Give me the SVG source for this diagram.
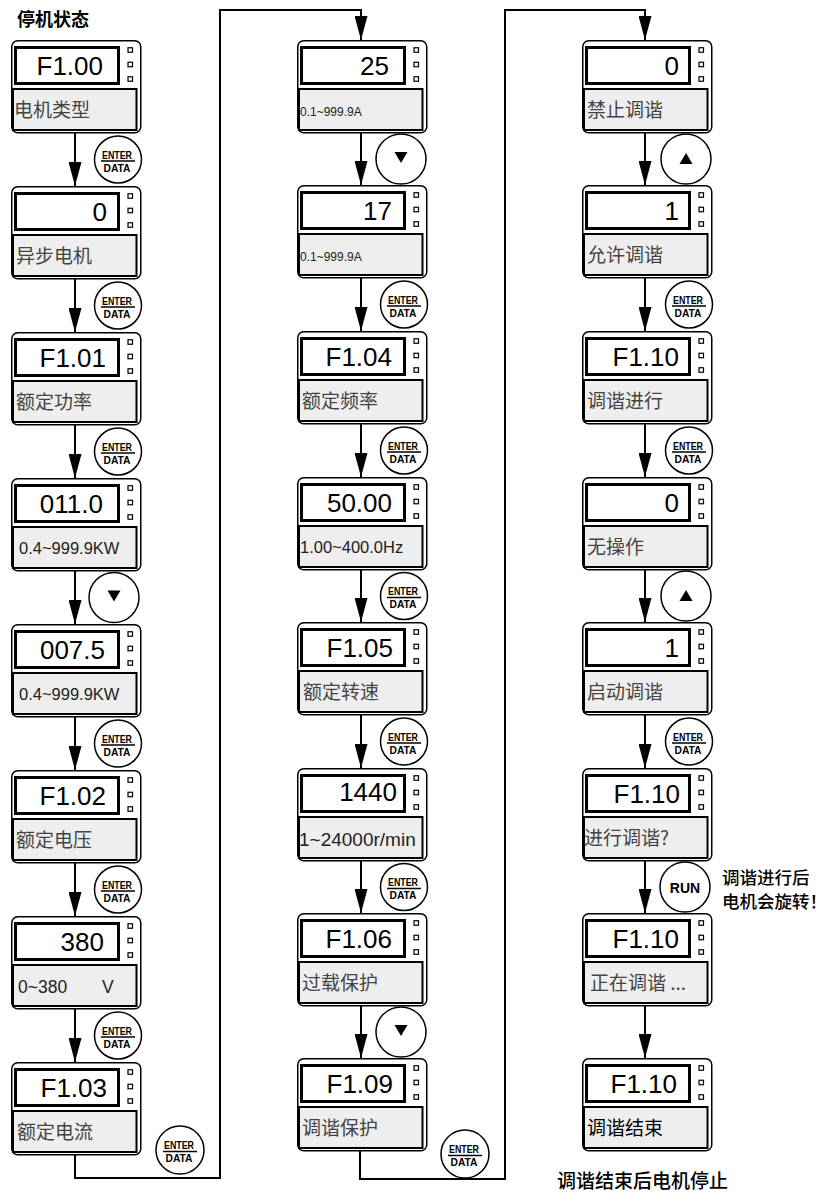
<svg xmlns="http://www.w3.org/2000/svg" xmlns:xlink="http://www.w3.org/1999/xlink" width="831" height="1194" viewBox="0 0 831 1194">
<style>
.pn{fill:#fff;stroke:#000;stroke-width:1.5}
.dp{fill:#fff;stroke:#000;stroke-width:3}
.dt{fill:#fff;stroke:#000;stroke-width:1.2}
.lb{fill:#eeeeee;stroke:#000;stroke-width:2}
.num{font-family:"Liberation Sans",Arial,sans-serif;font-size:26px;text-anchor:end;fill:#000}
.cn{font-family:"Noto Sans CJK SC","Liberation Sans",sans-serif;font-size:19px;fill:#444}
.ln{font-family:"Liberation Sans",Arial,sans-serif;fill:#222}
.btn{fill:#fff;stroke:#000;stroke-width:1.5}
.et{font-family:"Liberation Sans",Arial,sans-serif;font-weight:bold;font-size:10.5px;text-anchor:middle;fill:#000}
.rt{font-family:"Liberation Sans",Arial,sans-serif;font-weight:bold;font-size:14px;text-anchor:middle;fill:#000}
.sep{stroke:#000;stroke-width:1.5}
.wire{fill:none;stroke:#000;stroke-width:2}
.note{font-family:"Noto Sans CJK SC",sans-serif;font-size:17.5px;font-weight:500;fill:#000}
.title{font-family:"Noto Sans CJK SC",sans-serif;font-size:18px;font-weight:bold;fill:#000}
</style>
<defs>
<marker id="ah" viewBox="0 0 24 13" refX="24" refY="6.5" markerWidth="24" markerHeight="13" markerUnits="userSpaceOnUse" orient="auto">
<path d="M0,0 L24,6.5 L0,13 z" fill="#000"/>
</marker>
<g id="panel">
<rect class="pn" x="0.75" y="0.75" width="129" height="92" rx="6"/>
<rect class="dp" x="4.5" y="7.5" width="103" height="36"/>
<rect class="dt" x="117" y="7.75" width="4.5" height="4.5"/>
<rect class="dt" x="117" y="22.25" width="4.5" height="4.5"/>
<rect class="dt" x="117" y="36.75" width="4.5" height="4.5"/>
<rect class="lb" x="2" y="49" width="123.5" height="41"/>
</g>
</defs>

<text class="title" x="17" y="26">停机状态</text>

<g id="connectors">
<line class="wire" x1="75" y1="133" x2="75" y2="186" marker-end="url(#ah)"/>
<line class="wire" x1="75" y1="279" x2="75" y2="332" marker-end="url(#ah)"/>
<line class="wire" x1="75" y1="425" x2="75" y2="478" marker-end="url(#ah)"/>
<line class="wire" x1="75" y1="571" x2="75" y2="624" marker-end="url(#ah)"/>
<line class="wire" x1="75" y1="717" x2="75" y2="770" marker-end="url(#ah)"/>
<line class="wire" x1="75" y1="863" x2="75" y2="916" marker-end="url(#ah)"/>
<line class="wire" x1="75" y1="1009" x2="75" y2="1062" marker-end="url(#ah)"/>
<path class="wire" d="M75,1155 V1178 H220 V10 H361 V40" marker-end="url(#ah)"/>
<line class="wire" x1="361" y1="133" x2="361" y2="185" marker-end="url(#ah)"/>
<line class="wire" x1="361" y1="278" x2="361" y2="331" marker-end="url(#ah)"/>
<line class="wire" x1="361" y1="424" x2="361" y2="477" marker-end="url(#ah)"/>
<line class="wire" x1="361" y1="570" x2="361" y2="622" marker-end="url(#ah)"/>
<line class="wire" x1="361" y1="715" x2="361" y2="768" marker-end="url(#ah)"/>
<line class="wire" x1="361" y1="861" x2="361" y2="913" marker-end="url(#ah)"/>
<line class="wire" x1="361" y1="1006" x2="361" y2="1058" marker-end="url(#ah)"/>
<path class="wire" d="M360,1151 V1179 H505 V10 H645 V40" marker-end="url(#ah)"/>
<line class="wire" x1="645" y1="133" x2="645" y2="185" marker-end="url(#ah)"/>
<line class="wire" x1="645" y1="278" x2="645" y2="331" marker-end="url(#ah)"/>
<line class="wire" x1="645" y1="424" x2="645" y2="477" marker-end="url(#ah)"/>
<line class="wire" x1="645" y1="570" x2="645" y2="622" marker-end="url(#ah)"/>
<line class="wire" x1="645" y1="715" x2="645" y2="768" marker-end="url(#ah)"/>
<line class="wire" x1="645" y1="861" x2="645" y2="913" marker-end="url(#ah)"/>
<line class="wire" x1="645" y1="1006" x2="645" y2="1058" marker-end="url(#ah)"/>
</g>

<!-- column 1 panels -->
<g id="c1-1" transform="translate(11,40)"><use href="#panel"/><text class="num" x="92" y="35">F1.00</text><text class="cn" x="3" y="77">电机类型</text></g>
<g id="c1-2" transform="translate(11,186)"><use href="#panel"/><text class="num" x="96" y="35">0</text><text class="cn" x="5" y="77">异步电机</text></g>
<g id="c1-3" transform="translate(11,332)"><use href="#panel"/><text class="num" x="95" y="35">F1.01</text><text class="cn" x="5" y="77">额定功率</text></g>
<g id="c1-4" transform="translate(11,478)"><use href="#panel"/><text class="num" x="92" y="35">011.0</text><text class="ln" x="8" y="76" font-size="16.5">0.4~999.9KW</text></g>
<g id="c1-5" transform="translate(11,624)"><use href="#panel"/><text class="num" x="94" y="35">007.5</text><text class="ln" x="8" y="76" font-size="16.5">0.4~999.9KW</text></g>
<g id="c1-6" transform="translate(11,770)"><use href="#panel"/><text class="num" x="95" y="35">F1.02</text><text class="cn" x="5" y="77">额定电压</text></g>
<g id="c1-7" transform="translate(11,916)"><use href="#panel"/><text class="num" x="93" y="35">380</text><text class="ln" x="7" y="77" font-size="17.5">0~380<tspan x="91">V</tspan></text></g>
<g id="c1-8" transform="translate(11,1062)"><use href="#panel"/><text class="num" x="96" y="35">F1.03</text><text class="cn" x="6" y="77">额定电流</text></g>

<!-- column 2 panels -->
<g id="c2-1" transform="translate(297,40)"><use href="#panel"/><text class="num" x="92" y="35">25</text><text class="ln" x="3" y="76" font-size="12">0.1~999.9A</text></g>
<g id="c2-2" transform="translate(297,185)"><use href="#panel"/><text class="num" x="95" y="35">17</text><text class="ln" x="3" y="76" font-size="12">0.1~999.9A</text></g>
<g id="c2-3" transform="translate(297,331)"><use href="#panel"/><text class="num" x="95" y="35">F1.04</text><text class="cn" x="5" y="77">额定频率</text></g>
<g id="c2-4" transform="translate(297,477)"><use href="#panel"/><text class="num" x="95" y="35">50.00</text><text class="ln" x="3" y="76" font-size="16.5">1.00~400.0Hz</text></g>
<g id="c2-5" transform="translate(297,622)"><use href="#panel"/><text class="num" x="96" y="35">F1.05</text><text class="cn" x="6" y="77">额定转速</text></g>
<g id="c2-6" transform="translate(297,768)"><use href="#panel"/><text class="num" x="100" y="33">1440</text><text class="ln" x="2" y="78" font-size="19">1~24000r/min</text></g>
<g id="c2-7" transform="translate(297,913)"><use href="#panel"/><text class="num" x="95" y="35">F1.06</text><text class="cn" x="5" y="77">过载保护</text></g>
<g id="c2-8" transform="translate(297,1058)"><use href="#panel"/><text class="num" x="96" y="35">F1.09</text><text class="cn" x="5" y="77">调谐保护</text></g>

<!-- column 3 panels -->
<g id="c3-1" transform="translate(582,40)"><use href="#panel"/><text class="num" x="97" y="35">0</text><text class="cn" x="5" y="77">禁止调谐</text></g>
<g id="c3-2" transform="translate(582,185)"><use href="#panel"/><text class="num" x="97" y="35">1</text><text class="cn" x="5" y="77">允许调谐</text></g>
<g id="c3-3" transform="translate(582,331)"><use href="#panel"/><text class="num" x="97" y="35">F1.10</text><text class="cn" x="5" y="77">调谐进行</text></g>
<g id="c3-4" transform="translate(582,477)"><use href="#panel"/><text class="num" x="97" y="35">0</text><text class="cn" x="5" y="77">无操作</text></g>
<g id="c3-5" transform="translate(582,622)"><use href="#panel"/><text class="num" x="97" y="35">1</text><text class="cn" x="5" y="77">启动调谐</text></g>
<g id="c3-6" transform="translate(582,768)"><use href="#panel"/><text class="num" x="98" y="35">F1.10</text><text class="cn" x="2" y="77">进行调谐?</text></g>
<g id="c3-7" transform="translate(582,913)"><use href="#panel"/><text class="num" x="97" y="35">F1.10</text><text class="cn" x="8" y="77">正在调谐 ...</text></g>
<g id="c3-8" transform="translate(582,1058)"><use href="#panel"/><text class="num" x="95" y="35">F1.10</text><text class="cn" x="5" y="77" style="fill:#000">调谐结束</text></g>

<!-- buttons column 1 -->
<g id="b1-1"><circle class="btn" cx="118" cy="159.5" r="23.5"/><text class="et" x="117" y="158.5" textLength="30" lengthAdjust="spacingAndGlyphs">ENTER</text><line class="sep" x1="101" y1="161" x2="135" y2="161"/><text class="et" x="117" y="171.5" textLength="27" lengthAdjust="spacingAndGlyphs">DATA</text></g>
<g id="b1-2"><circle class="btn" cx="118" cy="305.5" r="23.5"/><text class="et" x="117" y="304.5" textLength="30" lengthAdjust="spacingAndGlyphs">ENTER</text><line class="sep" x1="101" y1="307" x2="135" y2="307"/><text class="et" x="117" y="317.5" textLength="27" lengthAdjust="spacingAndGlyphs">DATA</text></g>
<g id="b1-3"><circle class="btn" cx="118" cy="451.5" r="23.5"/><text class="et" x="117" y="450.5" textLength="30" lengthAdjust="spacingAndGlyphs">ENTER</text><line class="sep" x1="101" y1="453" x2="135" y2="453"/><text class="et" x="117" y="463.5" textLength="27" lengthAdjust="spacingAndGlyphs">DATA</text></g>
<g id="b1-4"><circle class="btn" cx="114" cy="597.5" r="25"/><polygon points="107.5,590.5 120.5,590.5 114,601.5" fill="#000"/></g>
<g id="b1-5"><circle class="btn" cx="118" cy="743.5" r="23.5"/><text class="et" x="117" y="742.5" textLength="30" lengthAdjust="spacingAndGlyphs">ENTER</text><line class="sep" x1="101" y1="745" x2="135" y2="745"/><text class="et" x="117" y="755.5" textLength="27" lengthAdjust="spacingAndGlyphs">DATA</text></g>
<g id="b1-6"><circle class="btn" cx="118" cy="889.5" r="23.5"/><text class="et" x="117" y="888.5" textLength="30" lengthAdjust="spacingAndGlyphs">ENTER</text><line class="sep" x1="101" y1="891" x2="135" y2="891"/><text class="et" x="117" y="901.5" textLength="27" lengthAdjust="spacingAndGlyphs">DATA</text></g>
<g id="b1-7"><circle class="btn" cx="118" cy="1035.5" r="23.5"/><text class="et" x="117" y="1034.5" textLength="30" lengthAdjust="spacingAndGlyphs">ENTER</text><line class="sep" x1="101" y1="1037" x2="135" y2="1037"/><text class="et" x="117" y="1047.5" textLength="27" lengthAdjust="spacingAndGlyphs">DATA</text></g>
<g id="b1-8"><circle class="btn" cx="180" cy="1150" r="24"/><text class="et" x="179" y="1149" textLength="30" lengthAdjust="spacingAndGlyphs">ENTER</text><line class="sep" x1="163" y1="1151.5" x2="197" y2="1151.5"/><text class="et" x="179" y="1162" textLength="27" lengthAdjust="spacingAndGlyphs">DATA</text></g>

<!-- buttons column 2 -->
<g id="b2-1"><circle class="btn" cx="401" cy="159" r="25"/><polygon points="394.5,152 407.5,152 401,163" fill="#000"/></g>
<g id="b2-2"><circle class="btn" cx="404" cy="304.5" r="23.5"/><text class="et" x="403" y="303.5" textLength="30" lengthAdjust="spacingAndGlyphs">ENTER</text><line class="sep" x1="387" y1="306" x2="421" y2="306"/><text class="et" x="403" y="316.5" textLength="27" lengthAdjust="spacingAndGlyphs">DATA</text></g>
<g id="b2-3"><circle class="btn" cx="404" cy="450.5" r="23.5"/><text class="et" x="403" y="449.5" textLength="30" lengthAdjust="spacingAndGlyphs">ENTER</text><line class="sep" x1="387" y1="452" x2="421" y2="452"/><text class="et" x="403" y="462.5" textLength="27" lengthAdjust="spacingAndGlyphs">DATA</text></g>
<g id="b2-4"><circle class="btn" cx="404" cy="596" r="23.5"/><text class="et" x="403" y="595" textLength="30" lengthAdjust="spacingAndGlyphs">ENTER</text><line class="sep" x1="387" y1="597.5" x2="421" y2="597.5"/><text class="et" x="403" y="608" textLength="27" lengthAdjust="spacingAndGlyphs">DATA</text></g>
<g id="b2-5"><circle class="btn" cx="404" cy="741.5" r="23.5"/><text class="et" x="403" y="740.5" textLength="30" lengthAdjust="spacingAndGlyphs">ENTER</text><line class="sep" x1="387" y1="743" x2="421" y2="743"/><text class="et" x="403" y="753.5" textLength="27" lengthAdjust="spacingAndGlyphs">DATA</text></g>
<g id="b2-6"><circle class="btn" cx="404" cy="887" r="23.5"/><text class="et" x="403" y="886" textLength="30" lengthAdjust="spacingAndGlyphs">ENTER</text><line class="sep" x1="387" y1="888.5" x2="421" y2="888.5"/><text class="et" x="403" y="899" textLength="27" lengthAdjust="spacingAndGlyphs">DATA</text></g>
<g id="b2-7"><circle class="btn" cx="401" cy="1032" r="25"/><polygon points="394.5,1025 407.5,1025 401,1036" fill="#000"/></g>
<g id="b2-8"><circle class="btn" cx="465" cy="1154" r="24"/><text class="et" x="464" y="1153" textLength="30" lengthAdjust="spacingAndGlyphs">ENTER</text><line class="sep" x1="448" y1="1155.5" x2="482" y2="1155.5"/><text class="et" x="464" y="1166" textLength="27" lengthAdjust="spacingAndGlyphs">DATA</text></g>

<!-- buttons column 3 -->
<g id="b3-1"><circle class="btn" cx="686" cy="159" r="25"/><polygon points="679.5,164 692.5,164 686,153" fill="#000"/></g>
<g id="b3-2"><circle class="btn" cx="689" cy="304.5" r="23.5"/><text class="et" x="688" y="303.5" textLength="30" lengthAdjust="spacingAndGlyphs">ENTER</text><line class="sep" x1="672" y1="306" x2="706" y2="306"/><text class="et" x="688" y="316.5" textLength="27" lengthAdjust="spacingAndGlyphs">DATA</text></g>
<g id="b3-3"><circle class="btn" cx="689" cy="450.5" r="23.5"/><text class="et" x="688" y="449.5" textLength="30" lengthAdjust="spacingAndGlyphs">ENTER</text><line class="sep" x1="672" y1="452" x2="706" y2="452"/><text class="et" x="688" y="462.5" textLength="27" lengthAdjust="spacingAndGlyphs">DATA</text></g>
<g id="b3-4"><circle class="btn" cx="686" cy="596" r="25"/><polygon points="679.5,601 692.5,601 686,590" fill="#000"/></g>
<g id="b3-5"><circle class="btn" cx="689" cy="741.5" r="23.5"/><text class="et" x="688" y="740.5" textLength="30" lengthAdjust="spacingAndGlyphs">ENTER</text><line class="sep" x1="672" y1="743" x2="706" y2="743"/><text class="et" x="688" y="753.5" textLength="27" lengthAdjust="spacingAndGlyphs">DATA</text></g>
<g id="b3-6"><circle class="btn" cx="685" cy="887" r="25"/><text class="rt" x="685" y="893">RUN</text></g>

<text class="note" x="722" y="884">调谐进行后</text>
<text class="note" x="722" y="908">电机会旋转！</text>
<text class="note" x="557" y="1188" font-size="19" style="font-size:19px">调谐结束后电机停止</text>
</svg>
